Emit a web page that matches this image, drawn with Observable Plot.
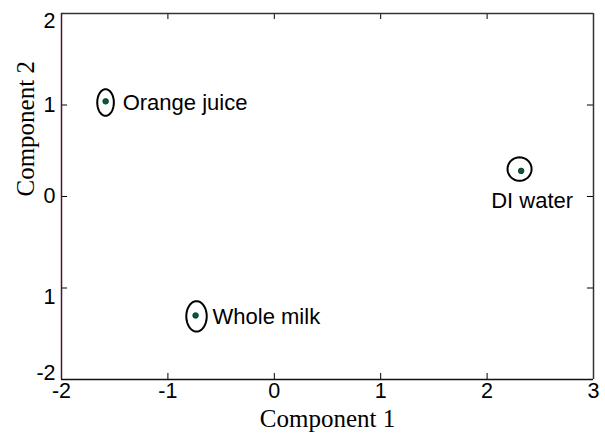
<!DOCTYPE html>
<html><head><meta charset="utf-8">
<script src="https://cdn.jsdelivr.net/npm/d3@7"></script>
<script src="https://cdn.jsdelivr.net/npm/@observablehq/plot@0.6"></script>
<style>body{margin:0;background:#fff}</style>
</head><body><div id="chart"></div>
<script>
const samples = ["Orange juice", "Whole milk", "DI water"];
const comp1 = [-1.585, -0.74, 2.32];
const comp2 = [1.04, -1.30, 0.28];
const ellCx = [-1.586, -0.731, 2.305];
const ellCy = [1.027, -1.31, 0.30];
const ellRx = [0.078, 0.096, 0.113];
const ellRy = [0.145, 0.166, 0.128];
const xTicks = [-2, -1, 0, 1, 2, 3];
const xTickLabels = ["-2", "-1", "0", "1", "2", "3"];
const yTicks = [2, 1, 0, -1, -2];
const yTickLabels = ["2", "1", "0", "1", "-2"];

const pts = samples.map((s, i) => ({name: s, x: comp1[i], y: comp2[i]}));
const ell = [];
samples.forEach((s, i) => {
  for (let k = 0; k <= 60; k++) {
    const t = 2 * Math.PI * k / 60;
    ell.push({name: s, x: ellCx[i] + ellRx[i] * Math.cos(t), y: ellCy[i] + ellRy[i] * Math.sin(t)});
  }
});
const xfmt = d => xTickLabels[xTicks.indexOf(d)];
const yfmt = d => yTickLabels[yTicks.indexOf(d)];
const tly = 0.066, tlx = 0.057;
const font = "Arial, 'Liberation Sans', sans-serif";
const serif = "'Times New Roman', 'Liberation Serif', serif";

const chart = Plot.plot({
  width: 605, height: 437,
  marginLeft: 61, marginRight: 12, marginTop: 13, marginBottom: 58,
  x: {domain: [-2, 3]},
  y: {domain: [-2, 2]},
  style: {fontFamily: font, background: "#fff"},
  marks: [
    Plot.axisX(xTicks, {tickSize: 0, tickPadding: 3, fontSize: 21.5, tickFormat: xfmt, label: null, fill: "#000"}),
    Plot.axisY([1, 0], {tickSize: 0, tickPadding: 6, fontSize: 21.5, tickFormat: yfmt, label: null, fill: "#000"}),
    Plot.axisY([2], {tickSize: 0, tickPadding: 6, fontSize: 21.5, tickFormat: yfmt, label: null, fill: "#000", dy: 8}),
    Plot.axisY([-1], {tickSize: 0, tickPadding: 6, fontSize: 21.5, tickFormat: yfmt, label: null, fill: "#000", dy: 9}),
    Plot.axisY([-2], {tickSize: 0, tickPadding: 6, fontSize: 21.5, tickFormat: yfmt, label: null, fill: "#000", dy: -6}),
    Plot.ruleX(xTicks, {x: d => d, y1: -2, y2: -2 + tly, stroke: "#000", strokeWidth: 1}),
    Plot.ruleX(xTicks, {x: d => d, y1: 2, y2: 2 - tly, stroke: "#000", strokeWidth: 1}),
    Plot.ruleY(yTicks, {y: d => d, x1: -2, x2: -2 + tlx, stroke: "#000", strokeWidth: 1}),
    Plot.ruleY(yTicks, {y: d => d, x1: 3, x2: 3 - tlx, stroke: "#000", strokeWidth: 1}),
    Plot.ruleY([2], {stroke: "#333", strokeWidth: 1.5}),
    Plot.ruleY([-2], {stroke: "#111", strokeWidth: 1.5}),
    Plot.ruleX([3], {stroke: "#333", strokeWidth: 1.5}),
    Plot.ruleX([-2], {stroke: "#4a1432", strokeWidth: 1.5}),
    Plot.line(ell, {x: "x", y: "y", z: "name", stroke: "#000", strokeWidth: 2}),
    Plot.dot(pts, {x: "x", y: "y", r: 2.8, fill: "#0b5a36", stroke: "#06301c", strokeWidth: 0.8}),
    Plot.text(pts.filter(d => d.name !== "DI water"), {x: "x", y: "y", text: "name", textAnchor: "start", dx: 17, dy: 2, fontSize: 22, fill: "#000", fontFamily: font}),
    Plot.text(pts.filter(d => d.name === "DI water"), {x: "x", y: "y", text: "name", textAnchor: "middle", dx: 11, dy: 30, fontSize: 22, fill: "#000", fontFamily: font}),
    Plot.text(["Component 1"], {frameAnchor: "bottom", dy: 47, text: d => d, fontSize: 25, fontFamily: serif, fill: "#000"}),
    Plot.text(["Component 2"], {frameAnchor: "left", dx: -36, rotate: -90, text: d => d, fontSize: 25, fontFamily: serif, fill: "#000"})
  ]
});
document.getElementById("chart").appendChild(chart);
</script>
</body></html>
